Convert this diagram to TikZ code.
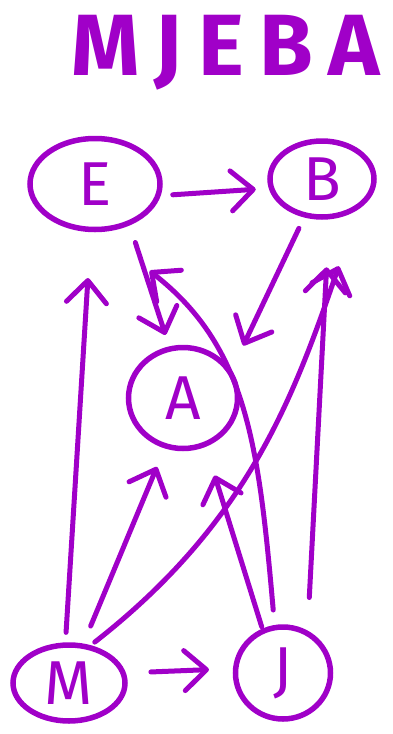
\documentclass[tikz,border=0pt]{standalone}
\usepackage{fontspec}
\setmainfont{Fira Sans}
\newfontfamily\titlefont[LetterSpace=18]{Fira Sans}
\usepackage{tikz}
\usetikzlibrary{arrows.meta,shapes.geometric}
\definecolor{pen}{RGB}{160,0,200}

\begin{document}
\begin{tikzpicture}[x=1pt, y=1pt, every node/.style={text=pen, font=\fontsize{62}{62}\selectfont}, >={Straight Barb[length=22pt,width=40pt,round]},
  var/.style={draw=pen, ellipse, line width=5.5pt, inner sep=0pt},
  link/.style={->, draw=pen, line width=5pt, line cap=round}]
\useasboundingbox (0,0) rectangle (393,-734);
\node[anchor=base west, font=\titlefont\bfseries\fontsize{87}{87}\selectfont] (title) at (68,-75) {MJEBA};
\node[var, minimum width=130pt, minimum height=91pt] (E) at (95,-184) {E};
\node[var, minimum width=104pt, minimum height=76pt] (B) at (322,-179) {B};
\node[var, minimum width=109pt, minimum height=101pt] (A) at (183,-398) {A};
\node[var, minimum width=112pt, minimum height=76pt] (M) at (69,-683) {M};
\node[var, minimum width=95pt, minimum height=92pt] (J) at (283,-673) {J};
\draw[link, shorten <=12pt, shorten >=13pt] (E.-10) -- (B.190);
\draw[link, shorten <=18pt, shorten >=12pt] (E.-50) -- (A.105);
\draw[link, shorten <=12pt, shorten >=27pt] (B.-115) -- (A.30);
\draw[link, shorten <=10pt, shorten >=46pt] (M.95) -- (E.-95);
\draw[link, shorten <=19pt, shorten >=20pt] (M.70) -- (A.-110);
\draw[link, shorten <=5pt, shorten >=60pt] (M.60) to[out=38, in=-109] (B.-40);
\draw[link, shorten <=25pt, shorten >=24pt] (M.10) -- (J.175);
\draw[link, shorten <=2pt, shorten >=30pt] (J.115) -- (A.-65);
\draw[link, shorten <=15pt, shorten >=63pt] (J.100) to[out=95, in=-38, looseness=1.1] (E.-84);
\draw[link, shorten <=33pt, shorten >=48pt] (J.60) -- (B.-80);
\end{tikzpicture}
\end{document}
